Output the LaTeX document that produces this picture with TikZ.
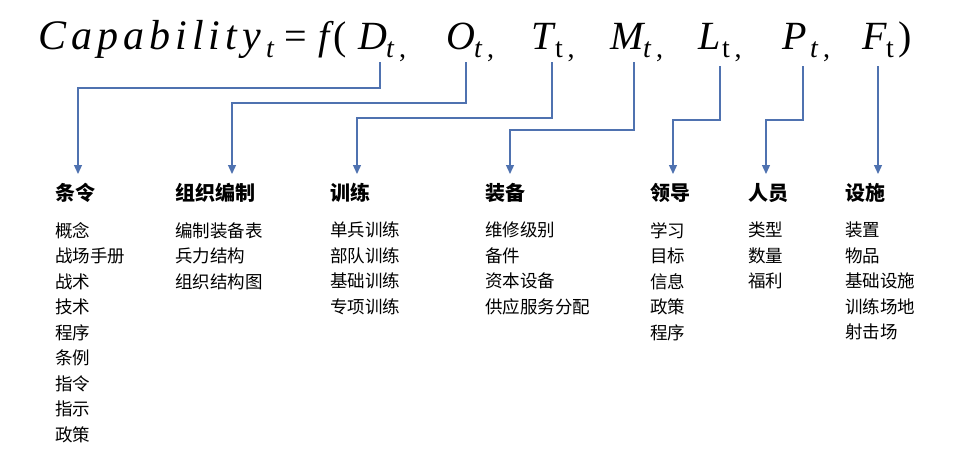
\documentclass[tikz,border=0pt]{standalone}
\usepackage{fontspec}
\setmainfont{Liberation Serif}
\newfontfamily\cjk{Noto Sans CJK SC}
\usetikzlibrary{arrows.meta}
\begin{document}
\begin{tikzpicture}[x=1pt,y=-1pt,
  f/.style={anchor=base west,inner sep=0pt,font=\fontsize{40}{42}\selectfont},
  s/.style={anchor=base west,inner sep=0pt,font=\fontsize{28}{30}\selectfont},
  hd/.style={anchor=base west,inner sep=0pt,font=\cjk\bfseries\fontsize{20}{22}\selectfont},
  it/.style={anchor=north west,inner sep=0pt,align=left,font=\cjk\fontsize{17.5}{25.5}\selectfont}]
\tikzset{ar/.style={draw={rgb,255:red,79;green,114;blue,176}, line width=1.3pt,-{Triangle[length=9pt,width=8pt]}}}
\useasboundingbox (0,0) rectangle (960,460);
\node[f] (c) at (38,50) {\fontsize{42}{44}\selectfont\addfontfeature{LetterSpace=12}\textit{Capability}};
\node[s] (ct) at (266,58) {\textit{t}};
\node[f] (eq) at (284,50) {=};
\node[f] (fp) at (318,50) {\textit{f}(};
\node[f] (d) at (358,50) {\textit{D}};
\node[s] (dt) at (386,58) {\textit{t}\,,};
\node[f] (o) at (446,50) {\textit{O}};
\node[s] (ot) at (474,58) {\textit{t}\,,};
\node[f] (tt) at (531,50) {\textit{T}};
\node[s] (ttt) at (555,58) {t\,,};
\node[f] (m) at (610,50) {\textit{M}};
\node[s] (mt) at (643,58) {\textit{t}\,,};
\node[f] (l) at (698,50) {\textit{L}};
\node[s] (lt) at (722,58) {t\,,};
\node[f] (p) at (782,50) {\textit{P}};
\node[s] (pt) at (810,58) {\textit{t}\,,};
\node[f] (ff) at (862,50) {\textit{F}};
\node[s] (fft) at (886,58) {t};
\node[f] (cl) at (898,50) {)};
\coordinate (sd) at (380,62); \coordinate (so) at (466,62); \coordinate (st) at (552,62);
\coordinate (sm) at (634,62); \coordinate (sl) at (720,66); \coordinate (sp) at (803,66); \coordinate (sf) at (878,66);
\node[hd] (h1) at (55,200) {条令};
\node[hd] (h2) at (175,200) {组织编制};
\node[hd] (h3) at (330,200) {训练};
\node[hd] (h4) at (485,200) {装备};
\node[hd] (h5) at (650,200) {领导};
\node[hd] (h6) at (748,200) {人员};
\node[hd] (h7) at (845,200) {设施};
\draw[ar] (sd) |- (78,88) -- (78,174);
\draw[ar] (so) |- (232,103) -- (232,174);
\draw[ar] (st) |- (357,118) -- (357,174);
\draw[ar] (sm) |- (510,130) -- (510,174);
\draw[ar] (sl) |- (673,120) -- (673,174);
\draw[ar] (sp) |- (766,120) -- (766,174);
\draw[ar] (sf) -- (878,174);
\node[it] at (55,222) {概念\\战场手册\\战术\\技术\\程序\\条例\\指令\\指示\\政策};
\node[it] at (175,222) {编制装备表\\兵力结构\\组织结构图};
\node[it] at (330,222) {单兵训练\\部队训练\\基础训练\\专项训练};
\node[it] at (485,222) {维修级别\\备件\\资本设备\\供应服务分配};
\node[it] at (650,222) {学习\\目标\\信息\\政策\\程序};
\node[it] at (748,222) {类型\\数量\\福利};
\node[it] at (845,222) {装置\\物品\\基础设施\\训练场地\\射击场};
\end{tikzpicture}
\end{document}
